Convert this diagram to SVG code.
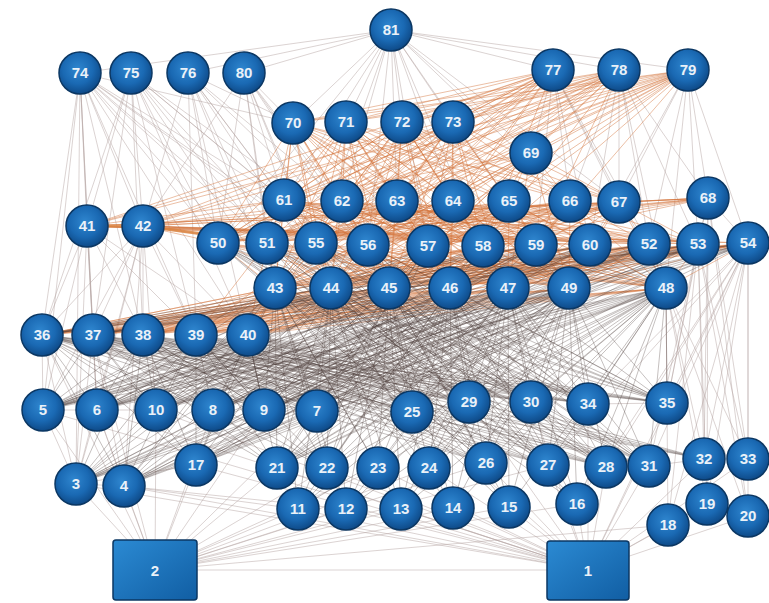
<svg xmlns="http://www.w3.org/2000/svg" width="769" height="603" viewBox="0 0 769 603">
<style>
.eo{fill:none;stroke:#d2733a;stroke-width:0.7;stroke-opacity:0.65}
.ed{fill:none;stroke:#4d3c3a;stroke-width:0.6;stroke-opacity:0.55}
.eg{fill:none;stroke:#b3a3a0;stroke-width:0.6;stroke-opacity:0.8}
.node circle{fill:url(#gb);stroke:#0b3763;stroke-width:1.5}
.node rect{fill:url(#gr);stroke:#0b3763;stroke-width:1.5}
.node text{font-family:"Liberation Sans",Arial,sans-serif;font-weight:bold;font-size:15px;fill:#eaf1f8;text-anchor:middle}
</style>
<defs>
<radialGradient id="gb" cx="45%" cy="40%" r="60%">
<stop offset="0%" stop-color="#2f86cf"/>
<stop offset="60%" stop-color="#1a69b3"/>
<stop offset="100%" stop-color="#0e4a88"/>
</radialGradient>
<linearGradient id="gr" x1="0" y1="0" x2="1" y2="1">
<stop offset="0%" stop-color="#2b8ad3"/>
<stop offset="100%" stop-color="#115ea3"/>
</linearGradient>
</defs>
<rect width="769" height="603" fill="#ffffff"/>
<g id="connectors">
<path class="eg" d="M391 30L244 73M391 30L188 73M391 30L80 73M391 30L293 123M391 30L346 122M391 30L402 122M391 30L453 122M391 30L284 200M391 30L342 201M391 30L397 201M391 30L453 201M391 30L509 201M391 30L570 201M391 30L619 202M391 30L531 153M391 30L553 70M391 30L619 70M391 30L688 70M391 30L218 243M391 30L316 243M391 30L368 245M391 30L428 246M391 30L483 246
M80 73L87 226M80 73L42 335M80 73L93 335M80 73L43 410M80 73L143 335M80 73L76 484M80 73L275 288M80 73L218 243M80 73L267 243M80 73L316 243M80 73L284 200M80 73L196 335M80 73L248 335M80 73L331 288M80 73L389 288M80 73L143 226M80 73L97 410M80 73L293 123
M131 73L143 226M131 73L218 243M131 73L275 288M131 73L284 200M131 73L331 288M131 73L368 245M131 73L196 335M131 73L248 335M131 73L143 335M131 73L93 335M131 73L267 243M131 73L389 288M131 73L87 226M131 73L42 335
M188 73L218 243M188 73L267 243M188 73L316 243M188 73L284 200M188 73L342 201M188 73L275 288M188 73L331 288M188 73L368 245M188 73L248 335M188 73L196 335M188 73L143 226M188 73L293 123
M244 73L293 123M244 73L284 200M244 73L267 243M244 73L316 243M244 73L342 201M244 73L275 288M244 73L331 288M244 73L368 245M244 73L389 288M244 73L218 243M244 73L143 226
M553 70L570 201M553 70L619 202M553 70L590 245M553 70L536 245M553 70L666 288M553 70L649 244M553 70L531 153
M619 70L619 202M619 70L649 244M619 70L698 244M619 70L590 245M619 70L666 288M619 70L708 198M619 70L570 201
M688 70L708 198M688 70L698 244M688 70L649 244M688 70L666 288M688 70L748 243M688 70L590 245M688 70L619 202
M87 226L42 335M87 226L43 410M87 226L76 484M87 226L93 335M87 226L97 410M87 226L143 335M87 226L196 335M87 226L248 335
M143 226L42 335M143 226L93 335M143 226L43 410M143 226L97 410M143 226L156 410M143 226L124 486M143 226L143 335M143 226L76 484M143 226L196 335M143 226L248 335
M748 243L748 459M748 243L748 516M748 243L704 459M748 243L707 504M748 243L668 525M748 243L649 466M748 243L667 403M748 243L606 467M748 243L548 465M748 243L588 404M748 243L588 570M748 243L577 504
M698 244L748 459M698 244L704 459M698 244L748 516M698 244L707 504M698 244L667 403M698 244L649 466M698 244L668 525
M708 198L748 459M708 198L704 459M708 198L748 516M708 198L748 243M708 198L698 244M708 198L667 403M708 198L707 504
M666 288L748 459M666 288L704 459M666 288L748 516M666 288L707 504M666 288L668 525M666 288L667 403
M588 570L76 484M588 570L124 486M588 570L196 465M588 570L277 468M588 570L327 468M588 570L378 468M588 570L429 468M588 570L298 509M588 570L346 509M588 570L401 509M588 570L453 508M588 570L509 507M588 570L577 504M588 570L486 463M588 570L548 465M588 570L606 467M588 570L649 466M588 570L668 525M588 570L707 504M588 570L748 516M588 570L704 459M588 570L748 459M588 570L412 412M588 570L469 402M588 570L531 402M588 570L588 404M588 570L667 403M588 570L43 410M588 570L97 410M588 570L156 410M588 570L155 570
M155 570L76 484M155 570L124 486M155 570L43 410M155 570L97 410M155 570L156 410M155 570L196 465M155 570L213 410M155 570L264 410M155 570L317 411M155 570L277 468M155 570L327 468M155 570L378 468M155 570L429 468M155 570L298 509M155 570L346 509M155 570L401 509M155 570L453 508M155 570L509 507M155 570L577 504M155 570L486 463M155 570L548 465M155 570L668 525M155 570L42 335M155 570L93 335
M42 335L43 410M42 335L76 484M93 335L97 410M93 335L76 484M93 335L124 486M43 410L97 410M97 410L156 410M76 484L124 486M43 410L76 484M97 410L76 484M97 410L124 486M124 486L298 509M124 486L346 509M76 484L196 465M588 404L667 403M707 504L668 525M707 504L748 516M649 466L704 459"/>
<path class="eo" d="M293 123L284 200M293 123L342 201M293 123L397 201M293 123L453 201M293 123L509 201M293 123L570 201M293 123L619 202
M346 122L284 200M346 122L342 201M346 122L397 201M346 122L453 201M346 122L509 201M346 122L570 201M346 122L619 202
M402 122L284 200M402 122L342 201M402 122L397 201M402 122L453 201M402 122L509 201M402 122L570 201M402 122L619 202
M453 122L284 200M453 122L342 201M453 122L397 201M453 122L453 201M453 122L509 201M453 122L570 201M453 122L619 202
M531 153L284 200M531 153L342 201M531 153L397 201M531 153L453 201M531 153L509 201M531 153L570 201M531 153L619 202
M553 70L293 123M553 70L346 122M553 70L402 122M553 70L453 122M553 70L284 200M553 70L342 201M553 70L397 201M553 70L218 243M553 70L267 243M553 70L143 226M553 70L87 226M553 70L316 243M553 70L368 245
M619 70L293 123M619 70L346 122M619 70L402 122M619 70L453 122M619 70L284 200M619 70L342 201M619 70L397 201M619 70L218 243M619 70L267 243M619 70L143 226M619 70L87 226M619 70L316 243M619 70L368 245
M688 70L293 123M688 70L346 122M688 70L402 122M688 70L453 122M688 70L284 200M688 70L342 201M688 70L397 201M688 70L218 243M688 70L267 243M688 70L143 226M688 70L87 226M688 70L316 243M688 70L368 245
M553 70L428 246M553 70L483 246M553 70L275 288M553 70L331 288M553 70L389 288
M619 70L428 246M619 70L483 246M619 70L536 245M619 70L275 288M619 70L331 288M619 70L389 288
M688 70L428 246M688 70L483 246M688 70L536 245M688 70L275 288M688 70L331 288M688 70L389 288
M284 200L218 243M284 200L267 243M284 200L316 243M284 200L368 245M284 200L428 246M284 200L483 246M284 200L536 245M284 200L590 245M284 200L649 244M284 200L698 244
M342 201L218 243M342 201L267 243M342 201L316 243M342 201L368 245M342 201L428 246M342 201L483 246M342 201L536 245M342 201L590 245M342 201L649 244M342 201L698 244
M397 201L218 243M397 201L267 243M397 201L316 243M397 201L368 245M397 201L428 246M397 201L483 246M397 201L536 245M397 201L590 245M397 201L649 244M397 201L698 244
M453 201L218 243M453 201L267 243M453 201L316 243M453 201L368 245M453 201L428 246M453 201L483 246M453 201L536 245M453 201L590 245M453 201L649 244M453 201L698 244
M509 201L218 243M509 201L267 243M509 201L316 243M509 201L368 245M509 201L428 246M509 201L483 246M509 201L536 245M509 201L590 245M509 201L649 244M509 201L698 244
M570 201L218 243M570 201L267 243M570 201L316 243M570 201L368 245M570 201L428 246M570 201L483 246M570 201L536 245M570 201L590 245M570 201L649 244M570 201L698 244
M619 202L218 243M619 202L267 243M619 202L316 243M619 202L368 245M619 202L428 246M619 202L483 246M619 202L536 245M619 202L590 245M619 202L649 244M619 202L698 244
M708 198L218 243M708 198L267 243M708 198L316 243M708 198L368 245M708 198L428 246M708 198L483 246M708 198L143 226M708 198L87 226
M284 200L275 288M284 200L331 288M284 200L389 288M284 200L450 288M284 200L508 288M284 200L569 288M284 200L666 288
M342 201L275 288M342 201L331 288M342 201L389 288M342 201L450 288M342 201L508 288M342 201L569 288M342 201L666 288
M397 201L275 288M397 201L331 288M397 201L389 288M397 201L450 288M397 201L508 288M397 201L569 288M397 201L666 288
M453 201L275 288M453 201L331 288M453 201L389 288M453 201L450 288M453 201L508 288M453 201L569 288M453 201L666 288
M509 201L275 288M509 201L331 288M509 201L389 288M509 201L450 288M509 201L508 288M509 201L569 288M509 201L666 288
M570 201L275 288M570 201L331 288M570 201L389 288M570 201L450 288M570 201L508 288M570 201L569 288M570 201L666 288
M619 202L275 288M619 202L331 288M619 202L389 288M619 202L450 288M619 202L508 288M619 202L569 288M619 202L666 288
M293 123L275 288M293 123L331 288M293 123L389 288M293 123L450 288M293 123L508 288M293 123L569 288
M346 122L275 288M346 122L331 288M346 122L389 288M346 122L450 288M346 122L508 288M346 122L569 288
M402 122L275 288M402 122L331 288M402 122L389 288M402 122L450 288M402 122L508 288M402 122L569 288
M453 122L275 288M453 122L331 288M453 122L389 288M453 122L450 288M453 122L508 288M453 122L569 288
M531 153L275 288M531 153L331 288M531 153L389 288M531 153L450 288M531 153L508 288M531 153L569 288
M218 243L275 288M218 243L331 288M218 243L389 288M218 243L450 288M218 243L508 288M218 243L569 288M218 243L666 288
M267 243L275 288M267 243L331 288M267 243L389 288M267 243L450 288M267 243L508 288M267 243L569 288M267 243L666 288
M316 243L275 288M316 243L331 288M316 243L389 288M316 243L450 288M316 243L508 288M316 243L569 288M316 243L666 288
M368 245L275 288M368 245L331 288M368 245L389 288M368 245L450 288M368 245L508 288M368 245L569 288M368 245L666 288
M428 246L275 288M428 246L331 288M428 246L389 288M428 246L450 288M428 246L508 288M428 246L569 288M428 246L666 288
M483 246L275 288M483 246L331 288M483 246L389 288M483 246L450 288M483 246L508 288M483 246L569 288M483 246L666 288
M536 245L275 288M536 245L331 288M536 245L389 288M536 245L450 288M536 245L508 288M536 245L569 288M536 245L666 288
M590 245L275 288M590 245L331 288M590 245L389 288M590 245L450 288M590 245L508 288M590 245L569 288M590 245L666 288
M649 244L275 288M649 244L331 288M649 244L389 288M649 244L450 288M649 244L508 288M649 244L569 288M649 244L666 288
M698 244L275 288M698 244L331 288M698 244L389 288M698 244L450 288M698 244L508 288M698 244L569 288M698 244L666 288
M748 243L275 288M748 243L331 288M748 243L389 288M748 243L450 288M748 243L508 288M748 243L569 288M748 243L666 288
M42 335L649 244M42 335L698 244M42 335L748 243M42 335L666 288M42 335L590 245M42 335L536 245M42 335L483 246M42 335L569 288M42 335L508 288M42 335L450 288M42 335L275 288M42 335L331 288M42 335L389 288
M93 335L649 244M93 335L698 244M93 335L748 243M93 335L666 288M93 335L590 245M93 335L536 245M93 335L483 246M93 335L569 288M93 335L508 288M93 335L450 288M93 335L275 288M93 335L331 288M93 335L389 288
M143 335L649 244M143 335L698 244M143 335L748 243M143 335L666 288M143 335L590 245M143 335L536 245M143 335L483 246M143 335L569 288M143 335L508 288M143 335L450 288M143 335L275 288M143 335L331 288M143 335L389 288
M196 335L275 288M196 335L331 288M196 335L389 288M196 335L450 288M196 335L508 288M196 335L569 288M196 335L666 288M196 335L649 244M196 335L698 244M196 335L748 243M196 335L267 243M196 335L316 243
M248 335L275 288M248 335L331 288M248 335L389 288M248 335L450 288M248 335L508 288M248 335L569 288M248 335L666 288M248 335L649 244M248 335L698 244M248 335L748 243M248 335L267 243M248 335L316 243
M87 226L649 244M87 226L698 244M87 226L748 243M87 226L708 198M87 226L590 245M87 226L536 245M87 226L284 200
M143 226L649 244M143 226L698 244M143 226L748 243M143 226L708 198M143 226L590 245M143 226L536 245M143 226L218 243M143 226L267 243M143 226L284 200M143 226L342 201M143 226L397 201
M293 123L218 243M293 123L267 243M293 123L316 243M293 123L368 245M293 123L428 246M293 123L483 246
M346 122L218 243M346 122L267 243M346 122L316 243M346 122L368 245M346 122L428 246M346 122L483 246
M402 122L218 243M402 122L267 243M402 122L316 243M402 122L368 245M402 122L428 246M402 122L483 246
M453 122L218 243M453 122L267 243M453 122L316 243M453 122L368 245M453 122L428 246M453 122L483 246"/>
<path d="M87 226L143 226L218 236" fill="none" stroke="#d9823f" stroke-width="3" stroke-opacity="0.85"/>
<path class="ed" d="M275 288L43 410M275 288L97 410M275 288L156 410M275 288L213 410M275 288L264 410M275 288L317 411M275 288L412 412M275 288L469 402M275 288L531 402M275 288L588 404M275 288L667 403M275 288L277 468M275 288L327 468M275 288L378 468M275 288L429 468M275 288L486 463M275 288L548 465M275 288L606 467M275 288L649 466
M331 288L43 410M331 288L97 410M331 288L156 410M331 288L213 410M331 288L264 410M331 288L317 411M331 288L412 412M331 288L469 402M331 288L531 402M331 288L588 404M331 288L667 403M331 288L277 468M331 288L327 468M331 288L378 468M331 288L429 468M331 288L486 463M331 288L548 465M331 288L606 467M331 288L649 466
M389 288L43 410M389 288L97 410M389 288L156 410M389 288L213 410M389 288L264 410M389 288L317 411M389 288L412 412M389 288L469 402M389 288L531 402M389 288L588 404M389 288L667 403M389 288L277 468M389 288L327 468M389 288L378 468M389 288L429 468M389 288L486 463M389 288L548 465M389 288L606 467M389 288L649 466
M450 288L43 410M450 288L97 410M450 288L156 410M450 288L213 410M450 288L264 410M450 288L317 411M450 288L412 412M450 288L469 402M450 288L531 402M450 288L588 404M450 288L667 403M450 288L277 468M450 288L327 468M450 288L378 468M450 288L429 468M450 288L486 463M450 288L548 465M450 288L606 467M450 288L649 466
M508 288L43 410M508 288L97 410M508 288L156 410M508 288L213 410M508 288L264 410M508 288L317 411M508 288L412 412M508 288L469 402M508 288L531 402M508 288L588 404M508 288L667 403M508 288L277 468M508 288L327 468M508 288L378 468M508 288L429 468M508 288L486 463M508 288L548 465M508 288L606 467M508 288L649 466
M569 288L43 410M569 288L97 410M569 288L156 410M569 288L213 410M569 288L264 410M569 288L317 411M569 288L412 412M569 288L469 402M569 288L531 402M569 288L588 404M569 288L667 403M569 288L277 468M569 288L327 468M569 288L378 468M569 288L429 468M569 288L486 463M569 288L548 465M569 288L606 467M569 288L649 466
M666 288L43 410M666 288L97 410M666 288L156 410M666 288L213 410M666 288L264 410M666 288L317 411M666 288L412 412M666 288L469 402M666 288L531 402M666 288L588 404M666 288L667 403M666 288L277 468M666 288L327 468M666 288L378 468M666 288L429 468M666 288L486 463M666 288L548 465M666 288L606 467M666 288L649 466
M42 335L412 412M42 335L469 402M42 335L531 402M42 335L588 404M42 335L667 403M42 335L486 463M42 335L548 465M42 335L606 467M42 335L649 466M42 335L704 459M42 335L317 411M42 335L264 410M42 335L277 468M42 335L327 468
M93 335L412 412M93 335L469 402M93 335L531 402M93 335L588 404M93 335L667 403M93 335L486 463M93 335L548 465M93 335L606 467M93 335L649 466M93 335L704 459M93 335L317 411M93 335L264 410M93 335L277 468M93 335L327 468
M143 335L412 412M143 335L469 402M143 335L531 402M143 335L588 404M143 335L667 403M143 335L486 463M143 335L548 465M143 335L606 467M143 335L649 466M143 335L704 459M143 335L317 411M143 335L264 410M143 335L277 468M143 335L327 468
M196 335L412 412M196 335L469 402M196 335L531 402M196 335L588 404M196 335L667 403M196 335L486 463M196 335L548 465M196 335L606 467M196 335L649 466M196 335L704 459M196 335L317 411M196 335L264 410M196 335L277 468M196 335L327 468
M248 335L412 412M248 335L469 402M248 335L531 402M248 335L588 404M248 335L667 403M248 335L486 463M248 335L548 465M248 335L606 467M248 335L649 466M248 335L704 459M248 335L317 411M248 335L264 410M248 335L277 468M248 335L327 468
M218 243L412 412M218 243L469 402M218 243L531 402M218 243L588 404M218 243L667 403M218 243L486 463M218 243L548 465M218 243L606 467M218 243L649 466
M267 243L412 412M267 243L469 402M267 243L531 402M267 243L588 404M267 243L667 403M267 243L486 463M267 243L548 465M267 243L606 467M267 243L649 466
M316 243L412 412M316 243L469 402M316 243L531 402M316 243L588 404M316 243L667 403M316 243L486 463M316 243L548 465M316 243L606 467M316 243L649 466
M368 245L412 412M368 245L469 402M368 245L531 402M368 245L588 404M368 245L667 403M368 245L486 463M368 245L548 465M368 245L606 467M368 245L649 466
M428 246L43 410M428 246L97 410M428 246L156 410M428 246L213 410M428 246L264 410M428 246L317 411M428 246L277 468M428 246L327 468
M483 246L43 410M483 246L97 410M483 246L156 410M483 246L213 410M483 246L264 410M483 246L317 411M483 246L277 468M483 246L327 468
M649 244L43 410M649 244L97 410M649 244L156 410M649 244L213 410M649 244L264 410M649 244L76 484M649 244L124 486M649 244L196 465M649 244L277 468M649 244L42 335M649 244L93 335
M698 244L43 410M698 244L97 410M698 244L156 410M698 244L213 410M698 244L264 410M698 244L76 484M698 244L124 486M698 244L196 465M698 244L277 468M698 244L42 335M698 244L93 335
M748 243L43 410M748 243L97 410M748 243L156 410M748 243L213 410M748 243L264 410M748 243L76 484M748 243L124 486M748 243L196 465M748 243L277 468M748 243L42 335M748 243L93 335
M590 245L43 410M590 245L97 410M590 245L156 410M590 245L213 410M590 245L264 410M590 245L76 484M590 245L124 486M590 245L196 465M590 245L277 468M590 245L42 335M590 245L93 335
M536 245L43 410M536 245L97 410M536 245L156 410M536 245L213 410M536 245L264 410M536 245L76 484M536 245L124 486M536 245L196 465M536 245L277 468M536 245L42 335M536 245L93 335
M275 288L298 509M275 288L346 509M275 288L401 509M275 288L453 508M275 288L509 507M275 288L577 504M275 288L76 484M275 288L124 486M275 288L196 465
M331 288L298 509M331 288L346 509M331 288L401 509M331 288L453 508M331 288L509 507M331 288L577 504M331 288L76 484M331 288L124 486M331 288L196 465
M389 288L298 509M389 288L346 509M389 288L401 509M389 288L453 508M389 288L509 507M389 288L577 504M389 288L76 484M389 288L124 486M389 288L196 465
M450 288L298 509M450 288L346 509M450 288L401 509M450 288L453 508M450 288L509 507M450 288L577 504M450 288L76 484M450 288L124 486M450 288L196 465
M508 288L298 509M508 288L346 509M508 288L401 509M508 288L453 508M508 288L509 507M508 288L577 504M508 288L76 484M508 288L124 486M508 288L196 465
M569 288L298 509M569 288L346 509M569 288L401 509M569 288L453 508M569 288L509 507M569 288L577 504M569 288L76 484M569 288L124 486M569 288L196 465
M666 288L298 509M666 288L346 509M666 288L401 509M666 288L453 508M666 288L509 507M666 288L577 504M666 288L76 484M666 288L124 486M666 288L196 465
M42 335L97 410M42 335L156 410M42 335L213 410M42 335L124 486M42 335L196 465
M93 335L43 410M93 335L156 410M93 335L213 410M93 335L196 465
M143 335L43 410M143 335L97 410M143 335L156 410M143 335L213 410M143 335L264 410M143 335L76 484M143 335L124 486M143 335L196 465
M196 335L43 410M196 335L97 410M196 335L156 410M196 335L213 410M196 335L264 410M196 335L76 484M196 335L124 486M196 335L196 465
M248 335L43 410M248 335L97 410M248 335L156 410M248 335L213 410M248 335L264 410M248 335L76 484M248 335L124 486M248 335L196 465"/>
</g>
<g id="n1" class="node"><rect x="547" y="541" width="82" height="59" rx="3"/><text x="588" y="576">1</text></g>
<g id="n2" class="node"><rect x="113" y="540" width="84" height="60" rx="3"/><text x="155" y="576">2</text></g>
<g id="n3" class="node"><circle cx="76" cy="484" r="21"/><text x="76" y="489">3</text></g>
<g id="n4" class="node"><circle cx="124" cy="486" r="21"/><text x="124" y="491">4</text></g>
<g id="n5" class="node"><circle cx="43" cy="410" r="21"/><text x="43" y="415">5</text></g>
<g id="n6" class="node"><circle cx="97" cy="410" r="21"/><text x="97" y="415">6</text></g>
<g id="n7" class="node"><circle cx="317" cy="411" r="21"/><text x="317" y="416">7</text></g>
<g id="n8" class="node"><circle cx="213" cy="410" r="21"/><text x="213" y="415">8</text></g>
<g id="n9" class="node"><circle cx="264" cy="410" r="21"/><text x="264" y="415">9</text></g>
<g id="n10" class="node"><circle cx="156" cy="410" r="21"/><text x="156" y="415">10</text></g>
<g id="n11" class="node"><circle cx="298" cy="509" r="21"/><text x="298" y="514">11</text></g>
<g id="n12" class="node"><circle cx="346" cy="509" r="21"/><text x="346" y="514">12</text></g>
<g id="n13" class="node"><circle cx="401" cy="509" r="21"/><text x="401" y="514">13</text></g>
<g id="n14" class="node"><circle cx="453" cy="508" r="21"/><text x="453" y="513">14</text></g>
<g id="n15" class="node"><circle cx="509" cy="507" r="21"/><text x="509" y="512">15</text></g>
<g id="n16" class="node"><circle cx="577" cy="504" r="21"/><text x="577" y="509">16</text></g>
<g id="n17" class="node"><circle cx="196" cy="465" r="21"/><text x="196" y="470">17</text></g>
<g id="n18" class="node"><circle cx="668" cy="525" r="21"/><text x="668" y="530">18</text></g>
<g id="n19" class="node"><circle cx="707" cy="504" r="21"/><text x="707" y="509">19</text></g>
<g id="n20" class="node"><circle cx="748" cy="516" r="21"/><text x="748" y="521">20</text></g>
<g id="n21" class="node"><circle cx="277" cy="468" r="21"/><text x="277" y="473">21</text></g>
<g id="n22" class="node"><circle cx="327" cy="468" r="21"/><text x="327" y="473">22</text></g>
<g id="n23" class="node"><circle cx="378" cy="468" r="21"/><text x="378" y="473">23</text></g>
<g id="n24" class="node"><circle cx="429" cy="468" r="21"/><text x="429" y="473">24</text></g>
<g id="n25" class="node"><circle cx="412" cy="412" r="21"/><text x="412" y="417">25</text></g>
<g id="n26" class="node"><circle cx="486" cy="463" r="21"/><text x="486" y="468">26</text></g>
<g id="n27" class="node"><circle cx="548" cy="465" r="21"/><text x="548" y="470">27</text></g>
<g id="n28" class="node"><circle cx="606" cy="467" r="21"/><text x="606" y="472">28</text></g>
<g id="n29" class="node"><circle cx="469" cy="402" r="21"/><text x="469" y="407">29</text></g>
<g id="n30" class="node"><circle cx="531" cy="402" r="21"/><text x="531" y="407">30</text></g>
<g id="n31" class="node"><circle cx="649" cy="466" r="21"/><text x="649" y="471">31</text></g>
<g id="n32" class="node"><circle cx="704" cy="459" r="21"/><text x="704" y="464">32</text></g>
<g id="n33" class="node"><circle cx="748" cy="459" r="21"/><text x="748" y="464">33</text></g>
<g id="n34" class="node"><circle cx="588" cy="404" r="21"/><text x="588" y="409">34</text></g>
<g id="n35" class="node"><circle cx="667" cy="403" r="21"/><text x="667" y="408">35</text></g>
<g id="n36" class="node"><circle cx="42" cy="335" r="21"/><text x="42" y="340">36</text></g>
<g id="n37" class="node"><circle cx="93" cy="335" r="21"/><text x="93" y="340">37</text></g>
<g id="n38" class="node"><circle cx="143" cy="335" r="21"/><text x="143" y="340">38</text></g>
<g id="n39" class="node"><circle cx="196" cy="335" r="21"/><text x="196" y="340">39</text></g>
<g id="n40" class="node"><circle cx="248" cy="335" r="21"/><text x="248" y="340">40</text></g>
<g id="n41" class="node"><circle cx="87" cy="226" r="21"/><text x="87" y="231">41</text></g>
<g id="n42" class="node"><circle cx="143" cy="226" r="21"/><text x="143" y="231">42</text></g>
<g id="n43" class="node"><circle cx="275" cy="288" r="21"/><text x="275" y="293">43</text></g>
<g id="n44" class="node"><circle cx="331" cy="288" r="21"/><text x="331" y="293">44</text></g>
<g id="n45" class="node"><circle cx="389" cy="288" r="21"/><text x="389" y="293">45</text></g>
<g id="n46" class="node"><circle cx="450" cy="288" r="21"/><text x="450" y="293">46</text></g>
<g id="n47" class="node"><circle cx="508" cy="288" r="21"/><text x="508" y="293">47</text></g>
<g id="n48" class="node"><circle cx="666" cy="288" r="21"/><text x="666" y="293">48</text></g>
<g id="n49" class="node"><circle cx="569" cy="288" r="21"/><text x="569" y="293">49</text></g>
<g id="n50" class="node"><circle cx="218" cy="243" r="21"/><text x="218" y="248">50</text></g>
<g id="n51" class="node"><circle cx="267" cy="243" r="21"/><text x="267" y="248">51</text></g>
<g id="n52" class="node"><circle cx="649" cy="244" r="21"/><text x="649" y="249">52</text></g>
<g id="n53" class="node"><circle cx="698" cy="244" r="21"/><text x="698" y="249">53</text></g>
<g id="n54" class="node"><circle cx="748" cy="243" r="21"/><text x="748" y="248">54</text></g>
<g id="n55" class="node"><circle cx="316" cy="243" r="21"/><text x="316" y="248">55</text></g>
<g id="n56" class="node"><circle cx="368" cy="245" r="21"/><text x="368" y="250">56</text></g>
<g id="n57" class="node"><circle cx="428" cy="246" r="21"/><text x="428" y="251">57</text></g>
<g id="n58" class="node"><circle cx="483" cy="246" r="21"/><text x="483" y="251">58</text></g>
<g id="n59" class="node"><circle cx="536" cy="245" r="21"/><text x="536" y="250">59</text></g>
<g id="n60" class="node"><circle cx="590" cy="245" r="21"/><text x="590" y="250">60</text></g>
<g id="n61" class="node"><circle cx="284" cy="200" r="21"/><text x="284" y="205">61</text></g>
<g id="n62" class="node"><circle cx="342" cy="201" r="21"/><text x="342" y="206">62</text></g>
<g id="n63" class="node"><circle cx="397" cy="201" r="21"/><text x="397" y="206">63</text></g>
<g id="n64" class="node"><circle cx="453" cy="201" r="21"/><text x="453" y="206">64</text></g>
<g id="n65" class="node"><circle cx="509" cy="201" r="21"/><text x="509" y="206">65</text></g>
<g id="n66" class="node"><circle cx="570" cy="201" r="21"/><text x="570" y="206">66</text></g>
<g id="n67" class="node"><circle cx="619" cy="202" r="21"/><text x="619" y="207">67</text></g>
<g id="n68" class="node"><circle cx="708" cy="198" r="21"/><text x="708" y="203">68</text></g>
<g id="n69" class="node"><circle cx="531" cy="153" r="21"/><text x="531" y="158">69</text></g>
<g id="n70" class="node"><circle cx="293" cy="123" r="21"/><text x="293" y="128">70</text></g>
<g id="n71" class="node"><circle cx="346" cy="122" r="21"/><text x="346" y="127">71</text></g>
<g id="n72" class="node"><circle cx="402" cy="122" r="21"/><text x="402" y="127">72</text></g>
<g id="n73" class="node"><circle cx="453" cy="122" r="21"/><text x="453" y="127">73</text></g>
<g id="n74" class="node"><circle cx="80" cy="73" r="21"/><text x="80" y="78">74</text></g>
<g id="n75" class="node"><circle cx="131" cy="73" r="21"/><text x="131" y="78">75</text></g>
<g id="n76" class="node"><circle cx="188" cy="73" r="21"/><text x="188" y="78">76</text></g>
<g id="n77" class="node"><circle cx="553" cy="70" r="21"/><text x="553" y="75">77</text></g>
<g id="n78" class="node"><circle cx="619" cy="70" r="21"/><text x="619" y="75">78</text></g>
<g id="n79" class="node"><circle cx="688" cy="70" r="21"/><text x="688" y="75">79</text></g>
<g id="n80" class="node"><circle cx="244" cy="73" r="21"/><text x="244" y="78">80</text></g>
<g id="n81" class="node"><circle cx="391" cy="30" r="21"/><text x="391" y="35">81</text></g>
</svg>
